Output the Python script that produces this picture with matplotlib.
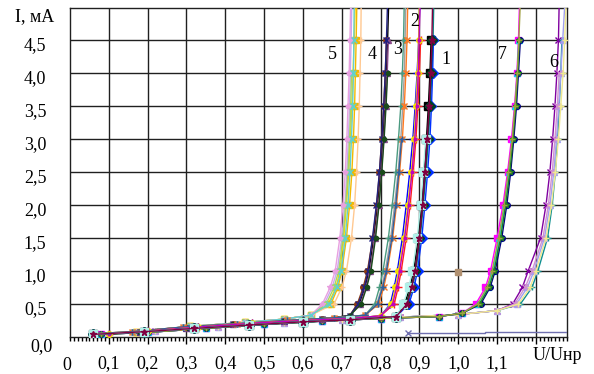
import matplotlib
matplotlib.use("Agg")
import matplotlib.pyplot as plt
from matplotlib.ticker import MultipleLocator, FixedLocator
import matplotlib.transforms as mtrans

plt.rcParams['font.family'] = ['Liberation Serif', 'DejaVu Serif']

# ---------------- data ----------------
rise_I = [0.5, 0.75, 1.0, 1.5, 2.0, 2.5, 3.0, 3.5, 4.0, 4.5, 5.1]

# baselines (U, I) per family
f5_base_U = [0.06, 0.17, 0.31, 0.45, 0.55, 0.62]
f5_base_I = [0.04, 0.08, 0.16, 0.22, 0.27, 0.33]
f4_base_U = [0.06, 0.18, 0.30, 0.42, 0.55, 0.65, 0.72]
f4_base_I = [0.04, 0.07, 0.14, 0.19, 0.24, 0.28, 0.32]
f3_base_U = [0.06, 0.16, 0.29, 0.43, 0.56, 0.68, 0.76]
f3_base_I = [0.05, 0.08, 0.15, 0.20, 0.25, 0.29, 0.33]
f2_base_U = [0.10, 0.20, 0.33, 0.47, 0.60, 0.72, 0.80]
f2_base_I = [0.05, 0.09, 0.15, 0.21, 0.25, 0.28, 0.32]
f1_base_U = [0.06, 0.19, 0.32, 0.46, 0.60, 0.72, 0.84]
f1_base_I = [0.04, 0.08, 0.13, 0.18, 0.23, 0.26, 0.31]
f7_base_U = [0.08, 0.20, 0.35, 0.50, 0.65, 0.80, 0.95, 1.01]
f7_base_I = [0.04, 0.07, 0.13, 0.19, 0.24, 0.28, 0.31, 0.36]
f6_base_U = [0.08, 0.22, 0.38, 0.55, 0.70, 0.85, 1.00, 1.10]
f6_base_I = [0.05, 0.09, 0.15, 0.21, 0.26, 0.30, 0.34, 0.40]

# rising branches: U values at rise_I levels
f5_U = [
    [0.665, 0.685, 0.695, 0.705, 0.712, 0.718, 0.722, 0.726, 0.729, 0.732, 0.735],
    [0.655, 0.675, 0.688, 0.700, 0.708, 0.713, 0.717, 0.720, 0.722, 0.724, 0.726],
    [0.672, 0.690, 0.700, 0.712, 0.720, 0.726, 0.730, 0.733, 0.735, 0.737, 0.739],
    [0.680, 0.700, 0.712, 0.725, 0.733, 0.738, 0.742, 0.745, 0.747, 0.749, 0.750],
    [0.660, 0.680, 0.692, 0.703, 0.710, 0.716, 0.720, 0.723, 0.725],
    [0.650, 0.670, 0.683, 0.695, 0.703, 0.709, 0.713, 0.716, 0.719, 0.721, 0.723],
    [0.668, 0.687, 0.698, 0.709, 0.716, 0.721, 0.725, 0.728, 0.730, 0.731, 0.732],
]
f4_U = [
    [0.745, 0.760, 0.770, 0.782, 0.792, 0.800, 0.806, 0.811, 0.815, 0.818, 0.821],
    [0.740, 0.755, 0.766, 0.780, 0.790, 0.797, 0.803, 0.808, 0.812, 0.815],
    [0.748, 0.762, 0.773, 0.785, 0.795, 0.802, 0.808, 0.813, 0.817, 0.820],
    [0.742, 0.758, 0.768, 0.779, 0.789, 0.797, 0.803, 0.808, 0.812, 0.815, 0.818],
    [0.750, 0.764, 0.775, 0.787, 0.796, 0.803, 0.809, 0.814, 0.818],
]
f3_U = [
    [0.790, 0.803, 0.812, 0.826, 0.836, 0.845, 0.852, 0.857, 0.861, 0.863, 0.865],
    [0.785, 0.797, 0.806, 0.820, 0.830, 0.839, 0.846, 0.852, 0.856, 0.859, 0.861],
    [0.795, 0.808, 0.817, 0.831, 0.841, 0.849, 0.856, 0.861, 0.865, 0.868, 0.870],
    [0.792, 0.805, 0.815, 0.829, 0.839, 0.847, 0.854],
]
f2_U = [
    [0.825, 0.835, 0.843, 0.856, 0.866, 0.875, 0.883, 0.889, 0.894, 0.898, 0.901],
    [0.835, 0.845, 0.853, 0.866, 0.876, 0.884, 0.891, 0.896, 0.900, 0.903],
    [0.828, 0.838, 0.846, 0.860, 0.870, 0.879, 0.886, 0.891, 0.895, 0.898, 0.900],
    [0.831, 0.841, 0.849, 0.862, 0.872, 0.881, 0.888, 0.893, 0.897, 0.899, 0.902],
]
f1_U = [
    [0.862, 0.875, 0.885, 0.897, 0.905, 0.912, 0.918, 0.923, 0.927, 0.930],
    [0.870, 0.882, 0.891, 0.902, 0.910, 0.917, 0.923, 0.928, 0.932, 0.935, 0.937],
    [0.873, 0.886, 0.895, 0.906, 0.914, 0.921, 0.927, 0.931, 0.934, 0.936],
    [0.865, 0.879, 0.888, 0.900, 0.908, 0.915, 0.921, 0.926, 0.930, 0.933],
    [0.858, 0.872, 0.882, 0.894, 0.903, 0.910, 0.916],
    [0.868, 0.880, 0.889, 0.900, 0.908, 0.914, 0.920, 0.925, 0.929, 0.932, 0.934],
]
f7_U = [
    [1.045, 1.070, 1.083, 1.100, 1.115, 1.127, 1.137, 1.145, 1.151, 1.155, 1.158],
    [1.052, 1.076, 1.089, 1.106, 1.120, 1.131, 1.140, 1.147, 1.152, 1.156],
    [1.058, 1.082, 1.095, 1.112, 1.125, 1.135, 1.143, 1.150, 1.155, 1.160],
    [1.055, 1.079, 1.092, 1.109, 1.122, 1.133, 1.141, 1.148, 1.153, 1.157],
    [1.050, 1.074, 1.087, 1.104, 1.118, 1.129, 1.139, 1.146, 1.152, 1.156, 1.160],
]
f6_U = [
    [1.140, 1.165, 1.180, 1.212, 1.226, 1.236, 1.243, 1.249, 1.254, 1.258, 1.260],
    [1.160, 1.190, 1.205, 1.230, 1.242, 1.250, 1.256, 1.260, 1.264, 1.267],
    [1.150, 1.178, 1.195, 1.222, 1.236, 1.246, 1.253, 1.259, 1.264, 1.269, 1.275],
    [1.145, 1.172, 1.190, 1.218, 1.232, 1.242, 1.249, 1.255, 1.260],
    [1.155, 1.185, 1.200, 1.226, 1.240, 1.250, 1.258, 1.264, 1.270, 1.274, 1.278],
]

stray_U = [1.0]
stray_I = [0.98]
low_U = [0.87, 1.07, 1.07, 1.28]
low_I = [0.06, 0.06, 0.075, 0.075]

family_labels = ['1', '2', '3', '4', '5', '6', '7']
label_U = [0.968, 0.889, 0.843, 0.778, 0.675, 1.245, 1.113]
label_I = [4.20, 4.77, 4.35, 4.27, 4.27, 4.15, 4.27]

x_ticks = [0.1, 0.2, 0.3, 0.4, 0.5, 0.6, 0.7, 0.8, 0.9, 1.0, 1.1, 1.2]
x_labels = ['0,1', '0,2', '0,3', '0,4', '0,5', '0,6', '0,7', '0,8', '0,9', '1,0', '1,1', '']
y_ticks = [0.5, 1.0, 1.5, 2.0, 2.5, 3.0, 3.5, 4.0, 4.5]
y_labels = ['0,5', '1,0', '1,5', '2,0', '2,5', '3,0', '3,5', '4,0', '4,5']

# ---------------- styles ----------------
f5_sty = [('#FFD400', 's', 4), ('#C8A8F0', 'o', 4), ('#F2B800', 's', 4), ('#FFC890', '+', 5),
          ('#A8D860', 'o', 4), ('#E8A0E0', '*', 4), ('#60D0D0', 'x', 4)]
f4_sty = [('#000000', '+', 4), ('#8B3A10', 'o', 4), ('#8A4A8A', '^', 4), ('#202080', 'x', 4), ('#1A4A1A', 'o', 3)]
f3_sty = [('#A0A0A0', 'o', 4), ('#4A9A80', '+', 4), ('#FF7820', 'x', 4), ('#3060A0', '+', 4)]
f2_sty = [('#0000FF', '+', 6), ('#FF2020', '+', 6), ('#F0E000', 'o', 4), ('#C000C0', '.', 4)]
f1_sty = [('#000000', 's', 6), ('#108080', 'D', 5), ('#0030FF', 'D', 5), ('#004020', 'D', 5),
          ('#B0F0E8', 's', 6), ('#800040', '*', 5)]
f7_sty = [('#FF00FF', 's', 5), ('#00E0F0', '^', 5), ('#000080', 'o', 4), ('#208020', '*', 4), ('#A0A040', '+', 4)]
f6_sty = [('#8000A0', 'x', 4), ('#109090', '+', 5), ('#A0A0F0', '^', 5), ('#D090D0', 'x', 4), ('#F0E890', '+', 4)]

fig = plt.figure(figsize=(5.94, 3.74), dpi=100)
ax = fig.add_axes([70/594, 37/374, 497/594, 329/374])


def draw_family(base_U, base_I, Us, styles):
    for U, (c, m, ms) in zip(Us, styles):
        xs = list(base_U) + list(U)
        ys = list(base_I) + list(rise_I[:len(U)])
        ax.plot(xs, ys, color=c, lw=1.0, marker=m, ms=ms, mec=c, mew=1.0, zorder=3, clip_on=True)


draw_family(f6_base_U, f6_base_I, f6_U, f6_sty)
draw_family(f7_base_U, f7_base_I, f7_U, f7_sty)
draw_family(f5_base_U, f5_base_I, f5_U, f5_sty)
draw_family(f4_base_U, f4_base_I, f4_U, f4_sty)
draw_family(f3_base_U, f3_base_I, f3_U, f3_sty)
draw_family(f2_base_U, f2_base_I, f2_U, f2_sty)
draw_family(f1_base_U, f1_base_I, f1_U, f1_sty)

ax.plot(low_U, low_I, color='#7070B0', lw=1.0, marker='x', ms=4, markevery=[0], zorder=3)
ax.plot(stray_U, stray_I, ls='none', marker='s', ms=5, color='#B09070', zorder=3)

for t, u, i in zip(family_labels, label_U, label_I):
    ax.text(u, i, t, fontsize=13, ha='center', va='center', zorder=4)

ax.set_xlim(0, 1.28)
ax.set_ylim(0, 4.98)
ax.xaxis.set_major_locator(FixedLocator(x_ticks))
ax.set_xticklabels(x_labels)
ax.xaxis.set_minor_locator(MultipleLocator(0.01))
ax.yaxis.set_major_locator(FixedLocator(y_ticks))
ax.set_yticklabels(y_labels)
ax.tick_params(axis='x', which='major', direction='out', length=5, width=1, pad=8, labelsize=13)
ax.tick_params(axis='x', which='minor', direction='out', length=3, width=1)
ax.tick_params(axis='y', which='major', length=0, pad=17, labelsize=13)
for lab in ax.get_yticklabels():
    lab.set_transform(lab.get_transform() + mtrans.ScaledTranslation(0, -4/100, fig.dpi_scale_trans))

ax.grid(True, which='major', color='#202020', lw=1.0)
for s in ax.spines.values():
    s.set_color('#202020')
    s.set_linewidth(1.0)

fig.text(15/594, 1 - 17/374, 'I, мА', fontsize=13, ha='left', va='center')
fig.text(53/594, 1 - 347/374, '0,0', fontsize=13, ha='right', va='center')
fig.text(67/594, 1 - 365/374, '0', fontsize=13, ha='center', va='center')
fig.text(557/594, 1 - 356/374, 'U/Uнр', fontsize=13, ha='center', va='center')

fig.savefig('out.png', dpi=100)
